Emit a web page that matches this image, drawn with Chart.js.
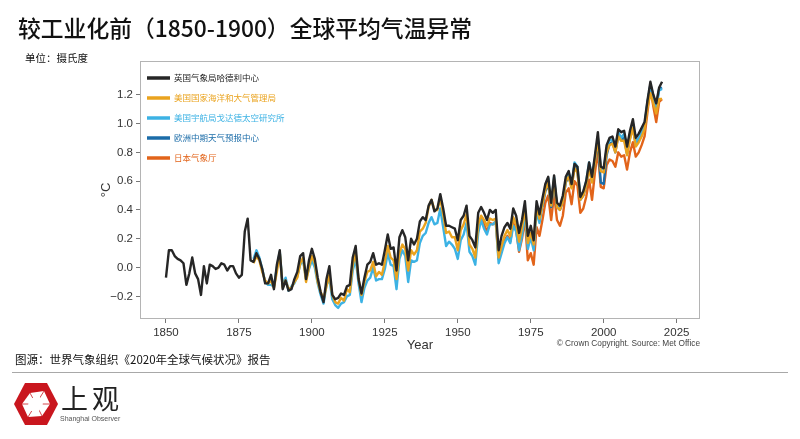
<!DOCTYPE html>
<html>
<head>
<meta charset="utf-8">
<script src="https://cdn.jsdelivr.net/npm/chart.js@4.4.1/dist/chart.umd.min.js"></script>
<style>
  body { margin: 0; background: #fff; width: 800px; height: 439px; overflow: hidden; position: relative; font-family: "Noto Sans CJK SC", sans-serif; }
  #chart { position: absolute; left: 0; top: 0; }
  .txt { position: absolute; white-space: nowrap; color: #111; line-height: 1; }
  #rule { position: absolute; left: 12px; top: 372px; width: 776px; height: 0; border-top: 1.5px solid #a8a8a8; }
  #logo { position: absolute; left: 13px; top: 382px; }
</style>
</head>
<body>
<canvas id="chart" width="800" height="439"></canvas>
<div class="txt" style="left:18px;top:17px;font-size:22.8px;font-weight:500;">较工业化前（1850-1900）全球平均气温异常</div>
<div class="txt" style="left:25px;top:53px;font-size:10.5px;">单位：摄氏度</div>
<div class="txt" style="left:15px;top:354px;font-size:11.5px;">图源：世界气象组织《2020年全球气候状况》报告</div>
<div id="rule"></div>
<svg id="logo" width="46" height="44" viewBox="0 0 46 44">
  <polygon points="12,1 34,1 45,22 34,43 12,43 1,22" fill="#c9161e"/>
  <polygon points="17,11 31,9 37,22 29,34 15,35 9,22" fill="#fff"/>
  <path d="M17,11 L23,22 M31,9 L23,22 M37,22 L23,22 M29,34 L23,22 M15,35 L23,22 M9,22 L23,22" stroke="#c9161e" stroke-width="0.8"/>
  <polygon points="19,16 27,15 30,22 26,29 18,29 15,22" fill="#fff"/>
</svg>
<div class="txt" style="left:61px;top:384px;font-size:27px;font-weight:400;letter-spacing:4px;color:#222;">上观</div>
<div class="txt" style="left:60px;top:415px;font-size:7px;color:#555;font-family:'Liberation Sans',Arial,sans-serif;">Shanghai Observer</div>
<script>
// annual anomalies vs 1850-1900 (°C)
const hadStart = 1850;
const hadcrut = [
  -0.07, 0.12, 0.12, 0.08, 0.06, 0.05, 0.03, -0.12, -0.04, 0.07,
  -0.04, -0.08, -0.19, 0.01, -0.11, 0.02, 0.01, -0.01, 0.00, 0.03,
  0.02, -0.02, 0.01, 0.01, -0.04, -0.07, -0.05, 0.25, 0.34, 0.05,
  0.04, 0.10, 0.06, -0.01, -0.11, -0.11, -0.05, -0.15, 0.02, 0.12,
  -0.15, -0.09, -0.16, -0.15, -0.08, -0.03, 0.08, 0.10, -0.08, 0.05,
  0.13, 0.06, -0.07, -0.17, -0.24, -0.08, 0.01, -0.19, -0.22, -0.21,
  -0.18, -0.19, -0.13, -0.12, 0.07, 0.15, -0.08, -0.18, -0.07, 0.02,
  0.04, 0.10, 0.02, 0.03, 0.02, 0.12, 0.23, 0.13, 0.14, -0.02,
  0.21, 0.26, 0.21, 0.05, 0.20, 0.16, 0.20, 0.32, 0.35, 0.33,
  0.43, 0.47, 0.39, 0.41, 0.51, 0.41, 0.29, 0.29, 0.28, 0.27,
  0.19, 0.33, 0.36, 0.43, 0.22, 0.19, 0.14, 0.38, 0.42, 0.38,
  0.33, 0.40, 0.38, 0.40, 0.12, 0.22, 0.28, 0.31, 0.27, 0.41,
  0.36, 0.24, 0.33, 0.46, 0.22, 0.29, 0.19, 0.46, 0.37, 0.48,
  0.58, 0.63, 0.45, 0.64, 0.45, 0.43, 0.50, 0.63, 0.67, 0.58,
  0.72, 0.70, 0.49, 0.53, 0.60, 0.73, 0.63, 0.78, 0.94, 0.70,
  0.69, 0.85, 0.90, 0.91, 0.84, 0.96, 0.94, 0.95, 0.84, 0.95,
  1.03, 0.90, 0.93, 0.97, 1.01, 1.16, 1.29, 1.20, 1.14, 1.25,
  1.29
];
const noaaStart = 1880;
const noaa = [
  0.03, 0.08, 0.05, -0.03, -0.09, -0.11, -0.09, -0.14, -0.03, 0.10,
  -0.14, -0.09, -0.15, -0.14, -0.10, -0.07, 0.03, 0.07, -0.10, 0.00,
  0.08, 0.03, -0.10, -0.17, -0.22, -0.13, -0.05, -0.19, -0.24, -0.25,
  -0.21, -0.23, -0.15, -0.17, 0.02, 0.10, -0.08, -0.19, -0.10, -0.03,
  -0.02, 0.04, -0.06, -0.03, -0.05, 0.04, 0.15, 0.07, 0.05, -0.08,
  0.10, 0.16, 0.13, -0.02, 0.12, 0.09, 0.12, 0.25, 0.27, 0.31,
  0.42, 0.47, 0.40, 0.40, 0.48, 0.37, 0.24, 0.25, 0.21, 0.21,
  0.12, 0.26, 0.30, 0.37, 0.16, 0.13, 0.07, 0.30, 0.36, 0.33,
  0.29, 0.34, 0.33, 0.34, 0.07, 0.15, 0.22, 0.26, 0.22, 0.35,
  0.30, 0.18, 0.28, 0.41, 0.17, 0.24, 0.16, 0.42, 0.34, 0.44,
  0.54, 0.59, 0.43, 0.61, 0.42, 0.40, 0.46, 0.60, 0.63, 0.55,
  0.69, 0.66, 0.47, 0.50, 0.57, 0.69, 0.59, 0.74, 0.89, 0.67,
  0.66, 0.80, 0.85, 0.86, 0.80, 0.91, 0.88, 0.88, 0.78, 0.89,
  0.97, 0.84, 0.87, 0.91, 0.96, 1.11, 1.21, 1.14, 1.07, 1.17,
  1.17
];
const gissStart = 1880;
const giss = [
  0.06, 0.12, 0.07, -0.01, -0.10, -0.12, -0.12, -0.13, 0.00, 0.11,
  -0.13, -0.07, -0.16, -0.13, -0.11, -0.06, 0.02, 0.05, -0.08, -0.01,
  0.05, 0.00, -0.11, -0.19, -0.25, -0.12, -0.08, -0.22, -0.26, -0.28,
  -0.25, -0.24, -0.20, -0.19, -0.02, 0.06, -0.11, -0.24, -0.14, -0.09,
  -0.07, 0.00, -0.09, -0.08, -0.08, -0.01, 0.10, 0.02, 0.01, -0.15,
  0.06, 0.12, 0.08, -0.10, 0.05, 0.04, 0.05, 0.17, 0.22, 0.24,
  0.31, 0.35, 0.30, 0.31, 0.41, 0.28, 0.15, 0.18, 0.16, 0.13,
  0.06, 0.19, 0.23, 0.31, 0.11, 0.08, 0.02, 0.24, 0.33, 0.27,
  0.23, 0.30, 0.30, 0.32, 0.03, 0.10, 0.17, 0.21, 0.17, 0.29,
  0.25, 0.12, 0.22, 0.38, 0.13, 0.21, 0.12, 0.39, 0.31, 0.43,
  0.56, 0.62, 0.43, 0.63, 0.43, 0.41, 0.47, 0.61, 0.66, 0.57,
  0.73, 0.70, 0.49, 0.52, 0.60, 0.73, 0.63, 0.76, 0.90, 0.69,
  0.68, 0.82, 0.89, 0.88, 0.83, 0.94, 0.90, 0.93, 0.82, 0.92,
  1.00, 0.87, 0.90, 0.94, 0.99, 1.15, 1.26, 1.18, 1.11, 1.23,
  1.24
];
const ecmwfStart = 1979;
const ecmwf = [
  0.42, 0.53, 0.58, 0.42, 0.60, 0.42, 0.40, 0.46, 0.59, 0.63,
  0.56, 0.71, 0.67, 0.47, 0.50, 0.57, 0.70, 0.60, 0.74, 0.88,
  0.59, 0.58, 0.78, 0.86, 0.87, 0.80, 0.92, 0.89, 0.90, 0.79,
  0.90, 0.97, 0.85, 0.89, 0.93, 0.98, 1.14, 1.27, 1.19, 1.12,
  1.24, 1.25
];
const jmaStart = 1958;
const jma = [
  0.35, 0.30, 0.25, 0.31, 0.30, 0.32, 0.06, 0.12, 0.19, 0.22,
  0.18, 0.31, 0.26, 0.11, 0.20, 0.34, 0.05, 0.10, 0.02, 0.28,
  0.22, 0.33, 0.45, 0.50, 0.33, 0.51, 0.33, 0.29, 0.36, 0.52,
  0.55, 0.44, 0.60, 0.57, 0.38, 0.41, 0.49, 0.61, 0.47, 0.66,
  0.81, 0.56, 0.55, 0.71, 0.75, 0.74, 0.70, 0.80, 0.77, 0.78,
  0.68, 0.80, 0.87, 0.77, 0.80, 0.85, 0.91, 1.08, 1.25, 1.12,
  1.01, 1.15, 1.17
];

const seriesNames = ['英国气象局哈德利中心', '美国国家海洋和大气管理局', '美国宇航局戈达德太空研究所', '欧洲中期天气预报中心', '日本气象厅'];
const seriesColors = ['#262626', '#eaa31e', '#3cb2e4', '#1b6ca8', '#e2641a'];
const xTicks = [1850, 1875, 1900, 1925, 1950, 1975, 2000, 2025];
const yTicks = [-0.2, 0.0, 0.2, 0.4, 0.6, 0.8, 1.0, 1.2];

function pts(start, vals) {
  return vals.map((v, i) => ({ x: start + i, y: v }));
}

const allSeries = [
  pts(hadStart, hadcrut),
  pts(noaaStart, noaa),
  pts(gissStart, giss),
  pts(ecmwfStart, ecmwf),
  pts(jmaStart, jma)
];

const tickFont = { family: "'Liberation Sans', Arial, sans-serif", size: 11.5 };

const extras = {
  id: 'extras',
  beforeDatasetsDraw(chart) {
    const { ctx, chartArea: a } = chart;
    ctx.save();
    ctx.strokeStyle = '#b4b4b4';
    ctx.lineWidth = 1;
    ctx.strokeRect(a.left + 0.5, a.top + 0.5, a.width - 1, a.height - 1);
    ctx.restore();
  },
  afterDraw(chart) {
    const { ctx, chartArea: a } = chart;
    ctx.save();
    // legend
    ctx.font = "8.5px 'Noto Sans CJK SC', sans-serif";
    ctx.textBaseline = 'middle';
    seriesNames.forEach((name, i) => {
      const y = a.top + 17 + i * 20;
      ctx.strokeStyle = seriesColors[i];
      ctx.lineWidth = 3.5;
      ctx.beginPath();
      ctx.moveTo(a.left + 7, y);
      ctx.lineTo(a.left + 30, y);
      ctx.stroke();
      ctx.fillStyle = i === 0 ? '#222' : seriesColors[i];
      ctx.fillText(name, a.left + 34, y);
    });
    // axis titles
    ctx.fillStyle = '#333';
    ctx.font = "13px 'Liberation Sans', Arial, sans-serif";
    ctx.textAlign = 'center';
    ctx.fillText('Year', (a.left + a.right) / 2, 345);
    ctx.save();
    ctx.translate(106, (a.top + a.bottom) / 2);
    ctx.rotate(-Math.PI / 2);
    ctx.fillText('°C', 0, 0);
    ctx.restore();
    ctx.font = "8.3px 'Liberation Sans', Arial, sans-serif";
    ctx.textAlign = 'right';
    ctx.fillStyle = '#444';
    ctx.fillText('© Crown Copyright. Source: Met Office', a.right, 344);
    ctx.restore();
  }
};

new Chart(document.getElementById('chart'), {
  type: 'line',
  data: {
    datasets: allSeries.map((d, i) => ({
      label: seriesNames[i],
      data: d,
      borderColor: seriesColors[i],
      backgroundColor: seriesColors[i],
      borderWidth: 2.4,
      pointRadius: 0,
      tension: 0,
      borderJoinStyle: 'round',
      fill: false
    }))
  },
  options: {
    responsive: false,
    animation: false,
    layout: { padding: { top: 61, right: 100, left: 0, bottom: 0 } },
    plugins: { legend: { display: false }, tooltip: { enabled: false } },
    scales: {
      x: {
        type: 'linear',
        min: 1841.1,
        max: 2033,
        afterFit: s => { s.height = 120; },
        afterBuildTicks: s => { s.ticks = xTicks.map(v => ({ value: v })); },
        grid: { drawOnChartArea: false, drawTicks: true, tickLength: 4, color: '#777' },
        border: { display: false },
        ticks: { font: tickFont, color: '#333', padding: 3, maxRotation: 0, callback: v => String(v) }
      },
      y: {
        type: 'linear',
        min: -0.357,
        max: 1.434,
        afterFit: s => { s.width = 140; },
        afterBuildTicks: s => { s.ticks = yTicks.map(v => ({ value: v })); },
        grid: { drawOnChartArea: false, drawTicks: true, tickLength: 4, color: '#777' },
        border: { display: false },
        ticks: { font: tickFont, color: '#333', padding: 3, callback: v => v.toFixed(1).replace('-', '−') }
      }
    }
  },
  plugins: [extras]
});
</script>
</body>
</html>
